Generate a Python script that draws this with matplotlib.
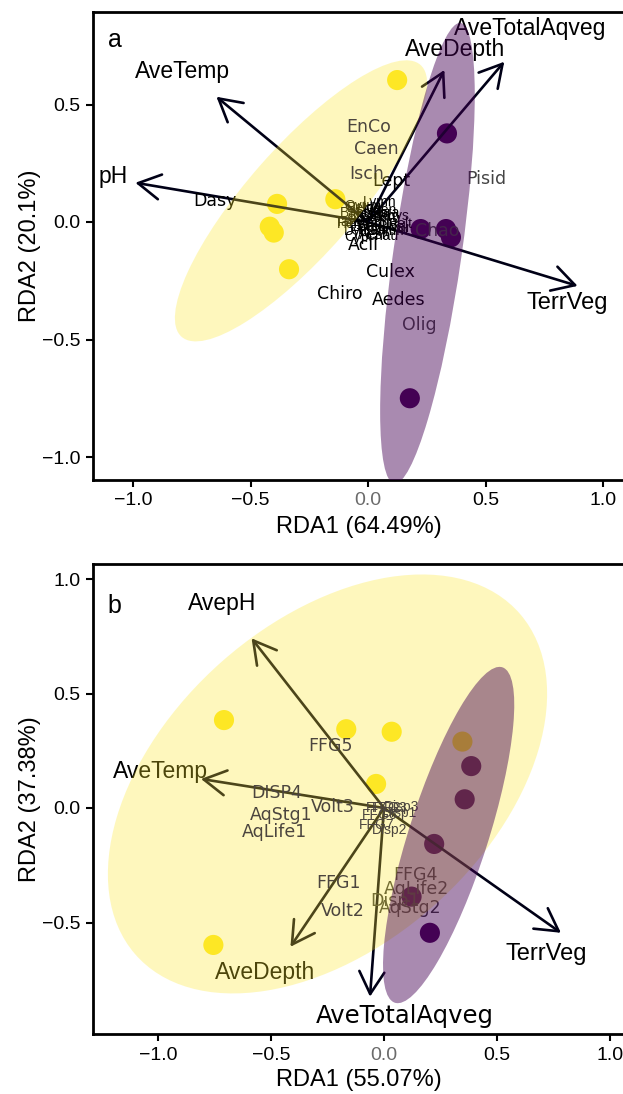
import matplotlib
matplotlib.use('Agg')
import matplotlib.pyplot as plt
from matplotlib.patches import Ellipse

plt.rcParams['font.family'] = ['Liberation Sans', 'DejaVu Sans']

# ---------------- data: panel a ----------------
a_yel_x = [0.124, -0.387, -0.139, -0.418, -0.401, -0.336]
a_yel_y = [0.604, 0.077, 0.097, -0.020, -0.045, -0.201]
a_pur_x = [0.336, 0.224, 0.332, 0.353, 0.178]
a_pur_y = [0.377, -0.030, -0.030, -0.065, -0.750]

a_env = ['AveTemp', 'pH', 'AveDepth', 'AveTotalAqveg', 'TerrVeg']
a_env_x = [-0.645, -0.990, 0.325, 0.580, 0.892]
a_env_y = [0.533, 0.167, 0.647, 0.682, -0.272]
a_envlab_x = [-0.789, -1.086, 0.371, 0.691, 0.849]
a_envlab_y = [0.640, 0.193, 0.735, 0.824, -0.343]

a_sp = ['EnCo', 'Caen', 'Isch', 'Dasy', 'Pisid', 'Chao', 'Acil', 'Culex',
        'Chiro', 'Aedes', 'Olig', 'Lept']
a_sp_x = [0.003, 0.037, -0.006, -0.652, 0.504, 0.296, -0.020, 0.095,
          -0.118, 0.131, 0.217, 0.099]
a_sp_y = [0.406, 0.309, 0.203, 0.091, 0.183, -0.037, -0.098, -0.211,
          -0.306, -0.332, -0.438, 0.176]
a_sp_zone = ['y', 'y', 'y', 'o', 'p', 'p', 'o', 'o', 'o', 'o', 'p', 'o']

a_small = ['Ovum', 'Lymn', 'Phys', 'Baet', 'Hyal', 'Scir', 'Chau', 'Sial',
           'Tany', 'Cera', 'Ephy', 'Gyra', 'Hydr', 'Dyti', 'Noto', 'Cori',
           'Belo', 'Gamm', 'Plan', 'Helo', 'Coen', 'Hesp', 'Libe', 'Aesh',
           'Cypr', 'Sten', 'Hali', 'Pelt']
a_small_x = [-0.020, 0.050, 0.110, -0.060, 0.010, -0.040, 0.060, 0.090,
             -0.080, 0.030, -0.010, 0.070, 0.120, -0.050, 0.000, 0.040,
             -0.030, 0.080, 0.020, -0.070, 0.050, -0.010, 0.100, 0.030,
             -0.040, 0.060, 0.010, 0.140]
a_small_y = [0.070, 0.085, 0.025, 0.040, 0.055, 0.010, -0.060, 0.000,
             0.000, 0.030, -0.020, 0.040, -0.025, -0.040, 0.015, -0.005,
             0.060, -0.040, -0.035, -0.010, 0.050, 0.035, -0.020, -0.055,
             -0.065, 0.020, -0.015, -0.010]

a_ell_cx = [-0.285, 0.253]
a_ell_cy = [0.090, -0.133]
a_ell_w = [1.54, 1.98]
a_ell_h = [0.46, 0.29]
a_ell_ang = [48.7, 81.8]

# ---------------- data: panel b ----------------
b_yel_x = [-0.708, -0.167, 0.034, -0.035, -0.755, 0.347]
b_yel_y = [0.384, 0.344, 0.333, 0.105, -0.598, 0.290]
b_pur_x = [0.386, 0.357, 0.222, 0.122, 0.203]
b_pur_y = [0.183, 0.038, -0.157, -0.387, -0.545]

b_env = ['AvepH', 'AveTemp', 'AveDepth', 'AveTotalAqveg', 'TerrVeg']
b_env_x = [-0.586, -0.810, -0.414, -0.062, 0.783]
b_env_y = [0.741, 0.127, -0.606, -0.824, -0.545]
b_envlab_x = [-0.715, -0.987, -0.524, 0.093, 0.717]
b_envlab_y = [0.894, 0.159, -0.718, -0.908, -0.638]

b_tr = ['FFG5', 'DISP4', 'Volt3', 'AqStg1', 'AqLife1', 'FFG4', 'AqLife2',
        'Disp1', 'AqStg2', 'FFG1', 'Volt2']
b_tr_x = [-0.238, -0.473, -0.226, -0.455, -0.485, 0.137, 0.144, 0.048,
          0.115, -0.200, -0.182]
b_tr_y = [0.271, 0.064, 0.006, -0.031, -0.103, -0.293, -0.355, -0.405,
          -0.438, -0.329, -0.449]
b_tr_zone = ['y', 'y', 'y', 'y', 'y', 'b', 'b', 'b', 'b', 'y', 'y']

b_small = ['FFG2', 'FFG3', 'Disp3', 'FFG6', 'Disp1', 'FFG7', 'Disp2']
b_small_x = [-0.003, 0.026, 0.078, -0.018, 0.070, -0.032, 0.026]
b_small_y = [-0.001, 0.000, 0.003, -0.031, -0.023, -0.074, -0.096]

b_ell_cx = [-0.250, 0.286]
b_ell_cy = [0.105, -0.118]
b_ell_w = [2.26, 1.54]
b_ell_h = [1.42, 0.35]
b_ell_ang = [41.0, 72.0]

xticks = [-1.0, -0.5, 0.0, 0.5, 1.0]
yticks_a = [-1.0, -0.5, 0.0, 0.5]
yticks_b = [-0.5, 0.0, 0.5, 1.0]

YEL = '#FDE725'
PUR = '#440154'
# text colours chosen so that, under the translucent ellipse overlay,
# they render as neutral greys like in the reference
ZONE_COL = {'o': '#000000', 'y': '#00004A', 'p': '#444444', 'b': '#3A3A3A'}
ARROW_COL = '#000016'
SP_FONT = ['DejaVu Sans']

W, H = 623, 1094
fig = plt.figure(figsize=(W / 100, H / 100), dpi=100)


def make_axes(left_px, right_px, top_px, bot_px, x0_px, y0_px, ppx, ppy):
    ax = fig.add_axes([left_px / W, 1 - bot_px / H, (right_px - left_px) / W,
                       (bot_px - top_px) / H])
    ax.set_xlim((left_px - x0_px) / ppx, (right_px - x0_px) / ppx)
    ax.set_ylim((y0_px - bot_px) / ppy, (y0_px - top_px) / ppy)
    for s in ['left', 'bottom', 'top', 'right']:
        ax.spines[s].set_linewidth(2.0)
        ax.spines[s].set_color('black')
    ax.tick_params(direction='out', length=5, width=1.5, labelsize=14,
                   colors='black', pad=4)
    return ax


def style_ticks(ax, yt):
    ax.set_xticks(xticks)
    ax.set_xticklabels([('\u2212' if v < 0 else '') + f'{abs(v):.1f}' for v in xticks])
    ax.set_yticks(yt)
    ax.set_yticklabels([('\u2212' if v < 0 else '') + f'{abs(v):.1f}' for v in yt])
    for lab in ax.get_xticklabels():
        if lab.get_text() == '0.0':
            lab.set_color('#6b6b6b')


def arrow(ax, x, y):
    ax.annotate('', xy=(x, y), xytext=(0, 0),
                arrowprops=dict(arrowstyle='->,head_length=0.8,head_width=0.45',
                                lw=1.9, color=ARROW_COL, shrinkA=0, shrinkB=0,
                                mutation_scale=20), zorder=3)


cols = [YEL, PUR]
alphas = [0.30, 0.46]

# ---------------- panel a ----------------
axa = make_axes(93, 624, 12, 480, 368, 222, 235, 235)
style_ticks(axa, yticks_a)
axa.scatter(a_yel_x, a_yel_y, s=210, color=YEL, edgecolors='none', zorder=2)
axa.scatter(a_pur_x, a_pur_y, s=210, color=PUR, edgecolors='none', zorder=2)
for x, y in zip(a_env_x, a_env_y):
    arrow(axa, x, y)
for n, x, y in zip(a_env, a_envlab_x, a_envlab_y):
    axa.text(x, y, n, fontsize=17 if n == 'TerrVeg' else 16.5, ha='center',
             va='center', color='black', zorder=3)
for n, x, y in zip(a_small, a_small_x, a_small_y):
    axa.text(x, y, n, fontsize=10, ha='center', va='center', color='black', zorder=3)
for n, x, y, z in zip(a_sp, a_sp_x, a_sp_y, a_sp_zone):
    axa.text(x, y, n, fontsize=12.5, family=SP_FONT, ha='center', va='center',
             color=ZONE_COL[z], zorder=3)
for i in range(2):
    axa.add_patch(Ellipse((a_ell_cx[i], a_ell_cy[i]), a_ell_w[i], a_ell_h[i],
                          angle=a_ell_ang[i], facecolor=cols[i], alpha=alphas[i],
                          edgecolor='none', zorder=5))
axa.text(0.028, 0.94, 'a', transform=axa.transAxes, fontsize=18, ha='left', va='center')
axa.set_xlabel('RDA1 (64.49%)', fontsize=17, labelpad=5)
axa.set_ylabel('RDA2 (20.1%)', fontsize=17, labelpad=1)

# ---------------- panel b ----------------
axb = make_axes(93, 624, 564, 1034, 384, 808, 226, 229)
style_ticks(axb, yticks_b)
axb.scatter(b_yel_x, b_yel_y, s=210, color=YEL, edgecolors='none', zorder=2)
axb.scatter(b_pur_x, b_pur_y, s=210, color=PUR, edgecolors='none', zorder=2)
for x, y in zip(b_env_x, b_env_y):
    arrow(axb, x, y)
for n, x, y in zip(b_env, b_envlab_x, b_envlab_y):
    if n == 'AveTotalAqveg':
        axb.text(x, y, n, fontsize=17.5, family=SP_FONT, ha='center',
                 va='center', color='black', zorder=3)
    else:
        axb.text(x, y, n, fontsize=17 if n == 'TerrVeg' else 16.5, ha='center',
                 va='center', color='black', zorder=3)
for n, x, y in zip(b_small, b_small_x, b_small_y):
    axb.text(x, y, n, fontsize=10, ha='center', va='center',
             color=ZONE_COL['y'], zorder=3)
for n, x, y, z in zip(b_tr, b_tr_x, b_tr_y, b_tr_zone):
    axb.text(x, y, n, fontsize=12.5, family=SP_FONT, ha='center', va='center',
             color=ZONE_COL[z], zorder=3)
for i in range(2):
    axb.add_patch(Ellipse((b_ell_cx[i], b_ell_cy[i]), b_ell_w[i], b_ell_h[i],
                          angle=b_ell_ang[i], facecolor=cols[i], alpha=alphas[i],
                          edgecolor='none', zorder=5))
axb.text(0.028, 0.91, 'b', transform=axb.transAxes, fontsize=18, ha='left', va='center')
axb.set_xlabel('RDA1 (55.07%)', fontsize=17, labelpad=4)
axb.set_ylabel('RDA2 (37.38%)', fontsize=17, labelpad=1)

fig.savefig('out.png', dpi=100)
